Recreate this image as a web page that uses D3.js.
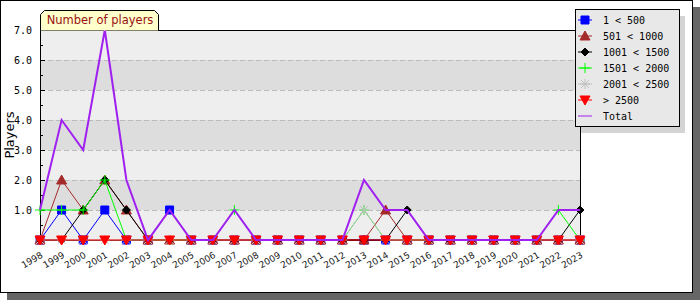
<!DOCTYPE html>
<meta charset="utf-8">
<script src="https://d3js.org/d3.v7.min.js"></script>
<style>
  body { margin: 0; background: #fff; }
  text { font-family: "DejaVu Sans", sans-serif; }
  .mono { font-family: "DejaVu Sans Mono", monospace; font-size: 10px; }
</style>
<div id="chart"></div>
<script>

// tick labels and series values
var years = ["1998","1999","2000","2001","2002","2003","2004","2005","2006","2007","2008","2009","2010",
             "2011","2012","2013","2014","2015","2016","2017","2018","2019","2020","2021","2022","2023"];
var yTicks = [1, 2, 3, 4, 5, 6, 7];

var s500   = [0,1,0,1,0,0,1,0,0,0,0,0,0,0,0,0,0,0,0,0,0,0,0,0,0,0];
var s1000  = [0,2,1,2,1,0,0,0,0,0,0,0,0,0,0,0,1,0,0,0,0,0,0,0,0,0];
var s1500  = [0,0,1,2,1,0,0,0,0,0,0,0,0,0,0,0,0,1,0,0,0,0,0,0,0,1];
var s2000  = [1,1,1,2,0,0,0,0,0,1,0,0,0,0,0,1,0,0,0,0,0,0,0,0,1,0];
var s2500  = [0,0,0,0,0,0,0,0,0,0,0,0,0,0,0,1,0,0,0,0,0,0,0,0,0,0];
var sOver  = [0,0,0,0,0,0,0,0,0,0,0,0,0,0,0,0,0,0,0,0,0,0,0,0,0,0];
var total  = [1,4,3,7,2,0,1,0,0,1,0,0,0,0,0,2,1,1,0,0,0,0,0,0,1,1];

var series = [
  {name: "1 < 500",     values: s500,  color: "#0000ff", mark: "square"},
  {name: "501 < 1000",  values: s1000, color: "#a52a2a", mark: "triup"},
  {name: "1001 < 1500", values: s1500, color: "#000000", mark: "diamond"},
  {name: "1501 < 2000", values: s2000, color: "#00ff00", mark: "plus"},
  {name: "2001 < 2500", values: s2500, color: "#c0c0c0", mark: "star"},
  {name: "> 2500",      values: sOver, color: "#ff0000", mark: "tridown"},
  {name: "Total",       values: total, color: "#a020f0", mark: null}
];

var W = 700, H = 300;
var margin = {top: 30, right: 120, bottom: 60, left: 40};
var width = W - margin.left - margin.right,
    height = H - margin.top - margin.bottom;

var svg = d3.select("#chart").append("svg")
  .attr("width", W).attr("height", H);

// frame with shadow
svg.append("rect").attr("x", 7).attr("y", 7).attr("width", 693).attr("height", 293).attr("fill", "#666");
svg.append("rect").attr("x", 0.5).attr("y", 0.5).attr("width", 692).attr("height", 292)
  .attr("fill", "#fff").attr("stroke", "#000");

var g = svg.append("g").attr("transform", "translate(" + margin.left + "," + margin.top + ")");

var x = d3.scalePoint().domain(years).range([0, width]);
var y = d3.scaleLinear().domain([0, 7]).range([height, 0]);

// alternating bands
g.selectAll(".band").data(d3.range(7)).enter().append("rect")
  .attr("x", 0).attr("width", width)
  .attr("y", function(d) { return y(d + 1); })
  .attr("height", function(d) { return y(d) - y(d + 1); })
  .attr("fill", function(d) { return d % 2 ? "#dddddd" : "#eeeeee"; });

// dashed grid
g.selectAll(".grid").data(yTicks.slice(0, 6)).enter().append("line")
  .attr("x1", 0).attr("x2", width)
  .attr("y1", function(d) { return Math.round(y(d)) + 0.5; })
  .attr("y2", function(d) { return Math.round(y(d)) + 0.5; })
  .attr("stroke", "#bbbbbb").attr("stroke-dasharray", "5,3");

// y axis: labels + inner ticks
var yAxis = g.append("g")
  .call(d3.axisLeft(y).tickValues(yTicks).tickFormat(d3.format(".1f")).tickSizeInner(-5).tickSizeOuter(0).tickPadding(8));
yAxis.select(".domain").remove();
yAxis.selectAll("text").attr("class", "mono").attr("fill", "#000");
g.append("g")
  .call(d3.axisLeft(y).tickValues(d3.range(0.5, 7, 1)).tickSizeInner(-3).tickSizeOuter(0).tickFormat(""))
  .select(".domain").remove();

// x axis
var xAxis = g.append("g").attr("transform", "translate(0," + height + ")")
  .call(d3.axisBottom(x).tickSizeInner(-4).tickSizeOuter(0));
xAxis.select(".domain").remove();
xAxis.selectAll("text")
  .style("font-size", "9px")
  .attr("fill", "#222")
  .attr("text-anchor", "end")
  .attr("y", 0).attr("dy", 0)
  .attr("transform", "translate(3,17) rotate(-30)");

// plot box
g.append("rect").attr("x", 0.5).attr("y", 0.5).attr("width", width).attr("height", height)
  .attr("fill", "none").attr("stroke", "#000");

// marker shapes
function markPath(type) {
  switch (type) {
    case "square":  return "M-4,-4H4V4H-4Z";
    case "triup":   return "M0,-5L5,4H-5Z";
    case "tridown": return "M0,5L5,-4H-5Z";
    case "diamond": return "M0,-4L4,0L0,4L-4,0Z";
    case "plus":    return "M-5,0H5M0,-5V5";
    case "star":    return "M-5,0H5M0,-5V5M-4,-4L4,4M-4,4L4,-4";
  }
}
function drawMark(sel, s) {
  var filled = s.mark !== "plus" && s.mark !== "star";
  sel.append("path").attr("d", markPath(s.mark))
    .attr("fill", filled ? s.color : "none")
    .attr("stroke", s.color).attr("stroke-width", 1);
}

var line = d3.line()
  .x(function(d, i) { return x(years[i]); })
  .y(function(d) { return y(d); });

series.forEach(function(s) {
  var sg = g.append("g");
  sg.append("path").datum(s.values).attr("d", line)
    .attr("fill", "none").attr("stroke", s.color)
    .attr("stroke-width", s.mark ? 1 : 2);
  if (s.mark) {
    sg.selectAll("g").data(s.values).enter().append("g")
      .attr("transform", function(d, i) { return "translate(" + x(years[i]) + "," + y(d) + ")"; })
      .each(function() { drawMark(d3.select(this), s); });
  }
});

// y title
svg.append("text")
  .attr("transform", "translate(14," + (margin.top + height / 2) + ") rotate(-90)")
  .attr("text-anchor", "middle")
  .style("font-size", "13px")
  .text("Players");

// title tab
svg.append("path")
  .attr("d", "M40.5,30.5V14.5L44.5,10.5H154.5L158.5,14.5V30.5")
  .attr("fill", "#ffffcc").attr("stroke", "#000");
svg.append("text").attr("x", 100).attr("y", 24).attr("text-anchor", "middle")
  .attr("fill", "#991111").style("font-size", "11.5px")
  .text("Number of players");

// legend
var lg = svg.append("g").attr("transform", "translate(575,9)");
lg.append("rect").attr("x", 6).attr("y", 7).attr("width", 104).attr("height", 117).attr("fill", "#d4d4d4");
lg.append("rect").attr("x", 0.5).attr("y", 0.5).attr("width", 104).attr("height", 117)
  .attr("fill", "#e8e8e8").attr("stroke", "#000");
var items = lg.selectAll(".item").data(series).enter().append("g")
  .attr("transform", function(d, i) { return "translate(0," + (11 + i * 16) + ")"; });
items.append("line").attr("x1", 3).attr("x2", 17).attr("y1", 0).attr("y2", 0)
  .attr("stroke", function(d) { return d.color; });
items.each(function(s) {
  if (s.mark) {
    var m = d3.select(this).append("g").attr("transform", "translate(10,0)");
    drawMark(m, s);
  }
});
items.append("text").attr("class", "mono").attr("x", 28).attr("dy", "0.35em")
  .text(function(d) { return d.name; });

</script>
